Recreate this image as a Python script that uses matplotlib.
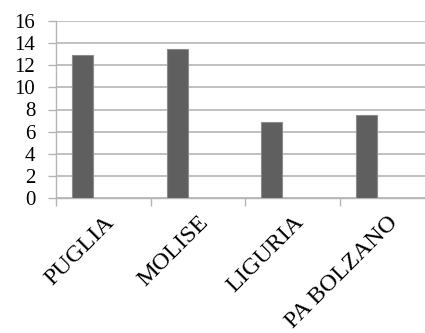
import matplotlib
matplotlib.use("Agg")
import matplotlib.pyplot as plt
import numpy as np

categories = ["PUGLIA", "MOLISE", "LIGURIA", "PA BOLZANO"]
values = [12.9, 13.5, 6.9, 7.5]
y_ticks = [0, 2, 4, 6, 8, 10, 12, 14, 16]

plt.rcParams['font.family'] = ['Liberation Serif', 'DejaVu Serif']

fig = plt.figure(figsize=(4.25, 3.33), dpi=100)
ax = fig.add_axes([56/425, 1 - 198/333, 379/425, 177/333])

n_series = 3
gap = 1.5
w = 1.0 / (n_series + gap)
x = np.arange(len(categories))
offset = -0.5 + gap * w / 2 + w / 2
ax.bar(x + offset, values, width=w, color="#5f5f5f", edgecolor="#8c8c8c", linewidth=0.8, zorder=3)

grid_c = "#b5b5b5"
ax.set_xlim(-0.5, len(categories) - 0.5)
ax.set_ylim(0, 16)
ax.set_yticks(y_ticks)
ax.set_yticklabels([str(t) for t in y_ticks], fontsize=15)
ax.yaxis.grid(True, color=grid_c, linewidth=1.2, zorder=0)
ax.tick_params(axis='y', length=6, color=grid_c, width=1.0, pad=9)

ax.set_xticks(x)
ax.set_xticklabels(categories, rotation=45, ha='right', rotation_mode='anchor', fontsize=17.5)
ax.tick_params(axis='x', which='major', length=0, pad=10)
ax.set_xticks(np.arange(len(categories) + 1) - 0.5, minor=True)
ax.tick_params(axis='x', which='minor', length=6, color=grid_c, width=1.0)

for s in ['top', 'right']:
    ax.spines[s].set_visible(False)
for s in ['left', 'bottom']:
    ax.spines[s].set_color(grid_c)
    ax.spines[s].set_linewidth(1.0)

fig.savefig("out.png", dpi=100)
